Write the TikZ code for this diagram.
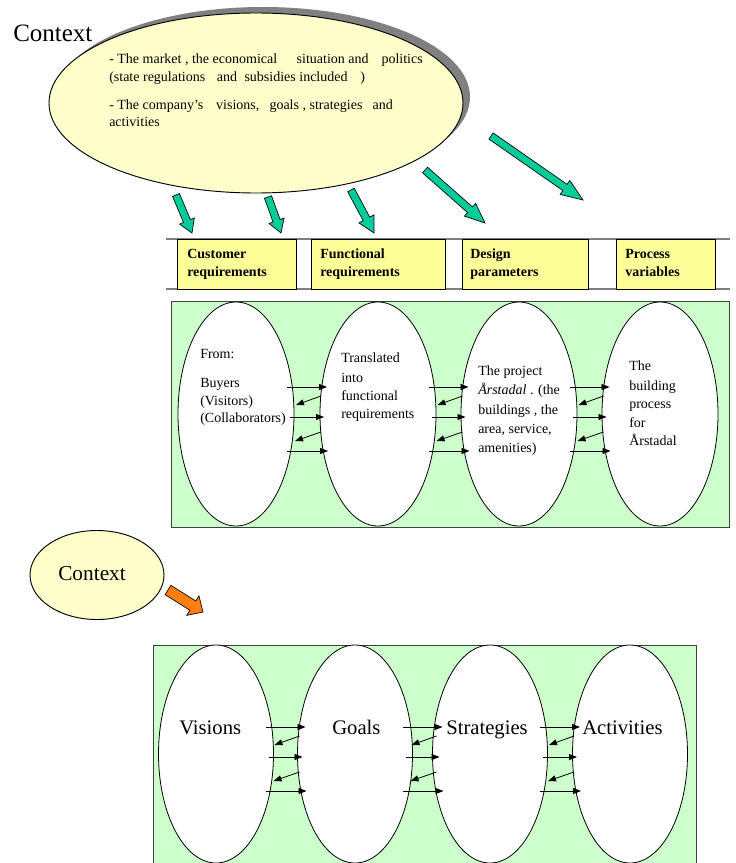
\documentclass[tikz,border=0pt]{standalone}
\usepackage{fontspec}
\setmainfont{Liberation Serif}
\usetikzlibrary{shapes.geometric,calc,fit,arrows.meta}
\definecolor{ellyellow}{HTML}{FFFFCC}
\definecolor{boxyellow}{HTML}{FFFF99}
\definecolor{lgreen}{HTML}{CCFFCC}
\definecolor{tealfill}{HTML}{00CC99}
\definecolor{orngfill}{HTML}{FF8011}
\definecolor{shadowgray}{HTML}{808080}
% block arrow: name, tail, tip, half shaft width, half head width, head length (px), colour
\newcommand{\blockarrow}[7]{%
  \coordinate (#1h) at ($(#3)!#6*0.75pt!(#2)$);
  \filldraw[fill=#7, draw=black, line width=0.5pt, line join=miter]
    ($(#2)!#4*0.75pt!90:(#3)$) -- ($(#1h)!#4*0.75pt!90:(#3)$) --
    ($(#1h)!#5*0.75pt!90:(#3)$) -- (#3) --
    ($(#1h)!#5*0.75pt!-90:(#3)$) -- ($(#1h)!#4*0.75pt!-90:(#3)$) --
    ($(#2)!#4*0.75pt!-90:(#3)$) -- cycle;
}
% five small links between two ellipses
\newcommand{\elinks}[3]{%
  \coordinate (#1) at ($(#2.east)!0.5!(#3.west)$);
  \draw[lnk] ([shift={(-20,-27)}]#1) -- ([shift={(20,-27)}]#1);
  \draw[lnk] ([shift={(14,-18)}]#1) -- ([shift={(-11,-9)}]#1);
  \draw[lnk] ([shift={(-17,3)}]#1) -- ([shift={(17,3)}]#1);
  \draw[lnk] ([shift={(14,18)}]#1) -- ([shift={(-12,27)}]#1);
  \draw[lnk] ([shift={(-20,37)}]#1) -- ([shift={(21,37)}]#1);
}
\begin{document}
\begin{tikzpicture}[x=0.75pt,y=-0.75pt,
  txt/.style={inner sep=0pt, anchor=base west, font=\fontsize{10.5}{12.6}\selectfont},
  btxt/.style={txt, font=\fontsize{10.5}{12.6}\selectfont\bfseries},
  big/.style={inner sep=0pt, anchor=base west, font=\fontsize{15.5}{18}\selectfont},
  oval/.style={ellipse, draw=black, line width=0.6pt, fill=white, inner sep=0pt,
               minimum width=116*0.75pt, minimum height=224*0.75pt},
  ovalb/.style={oval, minimum width=115*0.75pt, minimum height=218*0.75pt},
  ybox/.style={draw=black, line width=0.6pt, fill=boxyellow, inner sep=0pt},
  gbox/.style={draw=black!75, line width=0.6pt, fill=lgreen},
  lnk/.style={-{Triangle[length=6pt,width=4.5pt]}, line width=0.6pt},
  hline/.style={draw=black!50, line width=0.8pt}]
\useasboundingbox (0,0) rectangle (735,863);

% ---------- top context ellipse ----------
\node[ellipse, fill=shadowgray, inner sep=0pt, minimum width=414*0.75pt,
      minimum height=180*0.75pt] (ctxshadow) at (263,97) {};
\node[ellipse, draw=black, line width=0.7pt, fill=ellyellow, inner sep=0pt,
      minimum width=414*0.75pt, minimum height=180*0.75pt] (ctx) at (256,103) {};
\node[inner sep=0pt, anchor=base west, font=\fontsize{18.75}{22}\selectfont] (ctxlabel) at (13,42) {Context};
\node[txt] (c1) at (109,64) {- The market , the economical\hspace{12pt} situation and\hspace{7pt} politics};
\node[txt] (c2) at (109,82) {(state regulations\hspace{6pt} and\hspace{3pt} subsidies included\hspace{7pt} )};
\node[txt] (c3) at (109,110) {- The company’s\hspace{7pt} visions,\hspace{5pt} goals , strategies\hspace{5pt} and};
\node[txt] (c4) at (109,127) {activities};

% ---------- header row ----------
\draw[hline] (166,239) -- (730,239);
\draw[hline] (166,289) -- (730,289);
\node[ybox, fit={(177,239) (296,289)}] (b1) {};
\node[ybox, fit={(311,239) (445,289)}] (b2) {};
\node[ybox, fit={(462,239) (588,289)}] (b3) {};
\node[ybox, fit={(616,239) (715,289)}] (b4) {};
\node[btxt] (b1a) at (187,258) {Customer};
\node[btxt] (b1b) at (187,276) {requirements};
\node[btxt] (b2a) at (320,258) {Functional};
\node[btxt] (b2b) at (320,276) {requirements};
\node[btxt] (b3a) at (470,258) {Design};
\node[btxt] (b3b) at (470,276) {parameters};
\node[btxt] (b4a) at (625,258) {Process};
\node[btxt] (b4b) at (625,276) {variables};

% ---------- teal arrows ----------
\coordinate (t1a) at (176,195); \coordinate (t1b) at (192,233);
\coordinate (t2a) at (268,197); \coordinate (t2b) at (281,233);
\coordinate (t3a) at (351,190); \coordinate (t3b) at (374,233);
\coordinate (t4a) at (425,170); \coordinate (t4b) at (485,223);
\coordinate (t5a) at (491,136); \coordinate (t5b) at (583,200);
\blockarrow{ta1}{t1a}{t1b}{3.75}{8}{13}{tealfill}
\blockarrow{ta2}{t2a}{t2b}{3.75}{8}{13}{tealfill}
\blockarrow{ta3}{t3a}{t3b}{3.75}{8.5}{16}{tealfill}
\blockarrow{ta4}{t4a}{t4b}{3.75}{8.5}{20}{tealfill}
\blockarrow{ta5}{t5a}{t5b}{3.75}{8.5}{22}{tealfill}

% ---------- first green panel ----------
\node[gbox, inner sep=0pt, fit={(171,301) (729,527)}] (panel1) {};
\node[oval] (e1) at (236,414) {};
\node[oval] (e2) at (378,414) {};
\node[oval] (e3) at (519,414) {};
\node[oval] (e4) at (660,414) {};
\node[txt] (e1t1) at (200,358) {From:};
\node[txt] (e1t2) at (200,387) {Buyers};
\node[txt] (e1t3) at (200,405) {(Visitors)};
\node[txt] (e1t4) at (200,422) {(Collaborators)};
\node[txt] (e2t1) at (341,362) {Translated};
\node[txt] (e2t2) at (341,382) {into};
\node[txt] (e2t3) at (341,400) {functional};
\node[txt] (e2t4) at (341,418) {requirements};
\node[txt] (e3t1) at (478,375) {The project};
\node[txt] (e3t2) at (478,394) {\itshape Årstadal\/\upshape\ . (the};
\node[txt] (e3t3) at (478,414) {buildings , the};
\node[txt] (e3t4) at (478,433) {area, service,};
\node[txt] (e3t5) at (478,452) {amenities)};
\node[txt] (e4t1) at (629,370) {The};
\node[txt] (e4t2) at (629,390) {building};
\node[txt] (e4t3) at (629,408) {process};
\node[txt] (e4t4) at (629,427) {for};
\node[txt] (e4t5) at (629,445) {Årstadal};
\elinks{g12}{e1}{e2}
\elinks{g23}{e2}{e3}
\elinks{g34}{e3}{e4}

% ---------- small context + orange arrow ----------
\node[ellipse, draw=black, line width=0.7pt, fill=ellyellow, inner sep=0pt,
      minimum width=134*0.75pt, minimum height=89*0.75pt] (ctx2) at (97,575) {};
\node[inner sep=0pt, anchor=base west, font=\fontsize{16}{19}\selectfont] (ctx2label) at (58,580) {Context};
\coordinate (oa) at (168,590); \coordinate (ob) at (203,612);
\blockarrow{oarr}{oa}{ob}{5.5}{11.5}{12}{orngfill}

% ---------- second green panel ----------
\node[gbox, inner sep=0pt, fit={(153,645) (696,866)}] (panel2) {};
\node[ovalb] (v1) at (216,754) {};
\node[ovalb] (v2) at (355,754) {};
\node[ovalb] (v3) at (490,754) {};
\node[ovalb] (v4) at (630,754) {};
\node[big] (v1t) at (179,734) {Visions};
\node[big] (v2t) at (332,734) {Goals};
\node[big] (v3t) at (446,734) {Strategies};
\node[big] (v4t) at (582,734) {Activities};
\elinks{h12}{v1}{v2}
\elinks{h23}{v2}{v3}
\elinks{h34}{v3}{v4}
\end{tikzpicture}
\end{document}
